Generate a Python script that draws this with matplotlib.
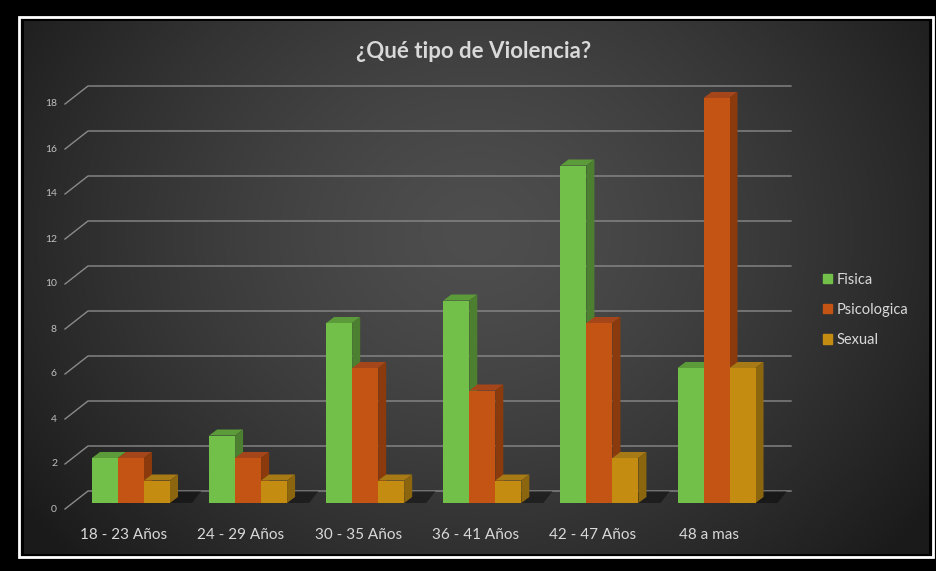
import numpy as np
import matplotlib
matplotlib.use("Agg")
import matplotlib.pyplot as plt
from matplotlib.patches import Polygon, Rectangle, Patch

# chart data
categories = ["18 - 23 Años", "24 - 29 Años", "30 - 35 Años", "36 - 41 Años", "42 - 47 Años", "48 a mas"]
series_names = ["Fisica", "Psicologica", "Sexual"]
fisica = [2, 3, 8, 9, 15, 6]
psicologica = [2, 2, 6, 5, 8, 18]
sexual = [1, 1, 1, 1, 2, 6]
y_ticks = [0, 2, 4, 6, 8, 10, 12, 14, 16, 18]

# front / top / side shades per series
front_colors = ["#72c04a", "#c35413", "#c48d12"]
top_colors = ["#5b9b3a", "#a5461a", "#a87a16"]
side_colors = ["#4c8030", "#8a3a0c", "#8c660e"]

plt.rcParams['font.family'] = ['Lato', 'DejaVu Sans']

W, H = 937, 571
fig = plt.figure(figsize=(W / 100, H / 100), dpi=100)
fig.patch.set_facecolor("black")

# background: black frame, white inner line, dark radial gradient
bg = fig.add_axes([0, 0, 1, 1])
bg.set_xlim(0, W)
bg.set_ylim(H, 0)
bg.axis("off")
bg.add_patch(Rectangle((0, 0), W, H, color="black", zorder=0))
bg.add_patch(Rectangle((19.5, 17), 913.5, 540, fill=False, ec="white", lw=2, zorder=1))
gx, gy = np.meshgrid(np.linspace(0, 1, 400), np.linspace(0, 1, 240))
r = np.sqrt(((gx - 0.5) / 0.62) ** 2 + ((gy - 0.4) / 0.9) ** 2)
r = np.clip(r, 0, 1)
shade = (0x4e - (0x4e - 0x1a) * r ** 1.4) / 255.0
bg.imshow(np.dstack([shade, shade, shade]), extent=(24, 929, 554, 21),
          aspect="auto", interpolation="bilinear", zorder=1)

# plot area: 1 unit = 22.5 px vertically, 117.1 px per category
ax_left, ax_right, ax_zero, px_unit = 88, 791, 503, 22.5
y_top = 19
ax = fig.add_axes([ax_left / W, (H - ax_zero) / H, (ax_right - ax_left) / W,
                   y_top * px_unit / H])
ax.patch.set_alpha(0)
ax.axis("off")
xmin, xmax = -0.367, 5.636
ax.set_xlim(xmin, xmax)
ax.set_ylim(0, y_top)

ux = 117.1  # px per category unit
back = 12 / px_unit        # back wall offset
dx, dy = 8 / ux, 6 / px_unit  # bar depth

# back wall gridlines with diagonal floor-edge leaders
for v in y_ticks:
    ax.plot([xmin - 23 / ux, xmin, xmax], [v - 6 / px_unit, v + back, v + back],
            color="#8a8a8a", lw=1, clip_on=False, zorder=1)
    ax.text(xmin - 31 / ux, v - 6 / px_unit, str(v), color="#bfbfbf",
            fontsize=7.5, ha="right", va="center", clip_on=False)

bar_w = 26 / ux
x = np.arange(len(categories))
values = [fisica, psicologica, sexual]

# floor shadows
for i in x:
    left = i - 1.5 * bar_w
    right = i + 1.5 * bar_w
    ax.add_patch(Polygon([(left, 0), (right + dx + 0.12, 0), (right + dx + 0.2, back),
                          (left + dx, back)], closed=True, color="black",
                         alpha=0.4, lw=0, zorder=2))

for k, vals in enumerate(values):
    pos = x + (k - 1) * bar_w
    ax.bar(pos, vals, width=bar_w, color=front_colors[k], lw=0, zorder=4 + k * 0.01,
           label=series_names[k])
    for p, v in zip(pos, vals):
        l, rgt = p - bar_w / 2, p + bar_w / 2
        ax.add_patch(Polygon([(l, v), (rgt, v), (rgt + dx, v + dy), (l + dx, v + dy)],
                             closed=True, color=top_colors[k], lw=0, zorder=3 + k * 0.01))
        ax.add_patch(Polygon([(rgt, 0), (rgt + dx, dy), (rgt + dx, v + dy), (rgt, v)],
                             closed=True, color=side_colors[k], lw=0, zorder=3 + k * 0.01))

# category labels
for i, c in enumerate(categories):
    ax.text(i - 0.06, -32 / px_unit, c, color="#d9d9d9", fontsize=11,
            ha="center", va="center", clip_on=False)

fig.text(474 / W, 1 - 52 / H, "¿Qué tipo de Violencia?", color="#d9d9d9",
         fontsize=16, fontweight="bold", ha="center", va="center")

handles = [Patch(color=c) for c in front_colors]
leg = fig.legend(handles, series_names, loc="center left",
                 bbox_to_anchor=(823 / W, 1 - 310 / H), frameon=False,
                 fontsize=10.5, labelcolor="#d9d9d9", handlelength=0.6,
                 handleheight=0.6, handletextpad=0.35, labelspacing=1.1,
                 borderpad=0, borderaxespad=0)

fig.savefig("out.png", dpi=100, facecolor="black")
